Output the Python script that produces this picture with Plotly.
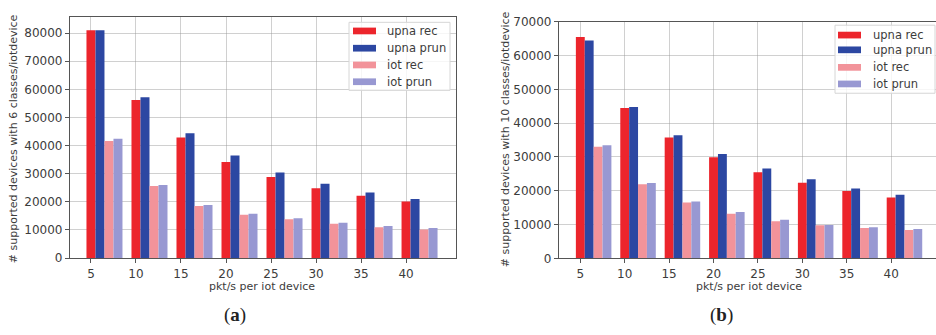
import plotly.graph_objects as go

# Packet rates per IoT device (x categories)
pkt_rates = [5, 10, 15, 20, 25, 30, 35, 40]

# (a) supported devices with 6 classes per IoT device
a_upna_rec = [81000, 56200, 42900, 34200, 28800, 24800, 22200, 20100]
a_upna_prun = [81000, 57200, 44400, 36500, 30400, 26400, 23300, 21000]
a_iot_rec = [41600, 25600, 18500, 15400, 13800, 12200, 11000, 10200]
a_iot_prun = [42400, 26000, 18900, 15800, 14200, 12600, 11400, 10700]

# (b) supported devices with 10 classes per IoT device
b_upna_rec = [65500, 44500, 35800, 29900, 25500, 22400, 19900, 18000]
b_upna_prun = [64500, 44800, 36400, 30900, 26600, 23400, 20700, 18800]
b_iot_rec = [33000, 21900, 16500, 13200, 11000, 9800, 9000, 8400]
b_iot_prun = [33500, 22300, 16800, 13700, 11400, 9900, 9200, 8700]

series_names = ["upna rec", "upna prun", "iot rec", "iot prun"]
series_colors = ["#ec252c", "#2c47a2", "#f2939a", "#9898d2"]
bar_offsets = [-0.5, 0.5, 1.5, 2.5]

W, H = 936, 335


def px(x):
    return x / W


def py(y):
    return 1 - y / H


fig = go.Figure()

panels = [
    ("x", "y", [a_upna_rec, a_upna_prun, a_iot_rec, a_iot_prun]),
    ("x2", "y2", [b_upna_rec, b_upna_prun, b_iot_rec, b_iot_prun]),
]
for xa, ya, series in panels:
    for name, color, off, vals in zip(series_names, series_colors, bar_offsets, series):
        fig.add_trace(go.Bar(
            x=pkt_rates, y=vals, name=name, width=1.0, offset=off,
            marker=dict(color=color, line=dict(width=0)),
            xaxis=xa, yaxis=ya, showlegend=False,
        ))

text_col = "#3c3c3c"
tick_font = dict(family="DejaVu Sans", size=12, color=text_col)
grid_col = "rgba(150,150,150,0.45)"
frame_col = "#555555"

common_x = dict(
    tickmode="array", tickvals=pkt_rates, ticktext=[str(v) for v in pkt_rates],
    ticks="outside", ticklen=4, tickcolor=frame_col, tickfont=tick_font,
    showgrid=True, gridcolor=grid_col, gridwidth=1, zeroline=False,
    showline=True, linecolor=frame_col, linewidth=1.2, layer="above traces",
)
common_y = dict(
    tickmode="linear", dtick=10000, tick0=0, tickformat="d",
    ticks="outside", ticklen=4, tickcolor=frame_col, tickfont=tick_font,
    showgrid=True, gridcolor=grid_col, gridwidth=1, zeroline=False,
    showline=True, linecolor=frame_col, linewidth=1.2, layer="above traces",
)

fig.update_layout(
    width=W, height=H,
    margin=dict(l=0, r=0, t=0, b=0),
    paper_bgcolor="white", plot_bgcolor="white",
    barmode="overlay", showlegend=False,
    xaxis=dict(common_x, domain=[px(70), px(456)], range=[2.67, 45.55],
               anchor="y", mirror=True),
    yaxis=dict(common_y, domain=[py(262), py(10)], range=[0, 85900],
               anchor="x", mirror=True),
    xaxis2=dict(common_x, domain=[px(559), 1.0], range=[2.6, 45.05],
                anchor="y2", mirror=True),
    yaxis2=dict(common_y, domain=[py(262.3), py(15.5)], range=[0, 70000],
                anchor="x2", mirror=False),
)

label_font = dict(family="DejaVu Sans", size=11, color=text_col)
legend_font = dict(family="DejaVu Sans", size=11.5, color=text_col)
annotations = [
    dict(x=px(13), y=py(138), text="# supported devices with 6 classes/iotdevice",
         textangle=-90, font=label_font),
    dict(x=px(505), y=py(138), text="# supported devices with 10 classes/iotdevice",
         textangle=-90, font=label_font),
    dict(x=px(262), y=py(292), text="pkt/s per iot device", font=label_font),
    dict(x=px(749), y=py(292), text="pkt/s per iot device", font=label_font),
    dict(x=px(235), y=py(321), text="(<b>a</b>)",
         font=dict(family="Liberation Serif", size=19, color="#222222")),
    dict(x=px(721), y=py(321), text="(<b>b</b>)",
         font=dict(family="Liberation Serif", size=19, color="#222222")),
]

shapes = []
# Legend boxes: (box left, top, right, bottom, patch left, patch right, text x, row centers)
legend_layouts = [
    (349, 16, 450, 87, 353, 376, 385, [25, 43, 60.5, 78]),
    (835, 19, 935, 90, 838, 861, 871, [29.3, 44.7, 63, 80.3]),
]
for bx0, by0, bx1, by1, p0, p1, tx, rows in legend_layouts:
    shapes.append(dict(type="rect", xref="paper", yref="paper",
                       x0=px(bx0), x1=px(bx1), y0=py(by1), y1=py(by0),
                       fillcolor="rgba(255,255,255,0.8)",
                       line=dict(color="#d6d6d6", width=1), layer="above"))
    for name, color, yc in zip(series_names, series_colors, rows):
        shapes.append(dict(type="rect", xref="paper", yref="paper",
                           x0=px(p0), x1=px(p1), y0=py(yc + 3.5), y1=py(yc - 3.5),
                           fillcolor=color, line=dict(width=0), layer="above"))
        annotations.append(dict(x=px(tx), y=py(yc), text=name, xanchor="left",
                                font=legend_font))

for a in annotations:
    a.setdefault("xref", "paper")
    a.setdefault("yref", "paper")
    a.setdefault("showarrow", False)
    a.setdefault("xanchor", "center")
    a.setdefault("yanchor", "middle")

fig.update_layout(annotations=annotations, shapes=shapes)

fig.write_html("out.html")
